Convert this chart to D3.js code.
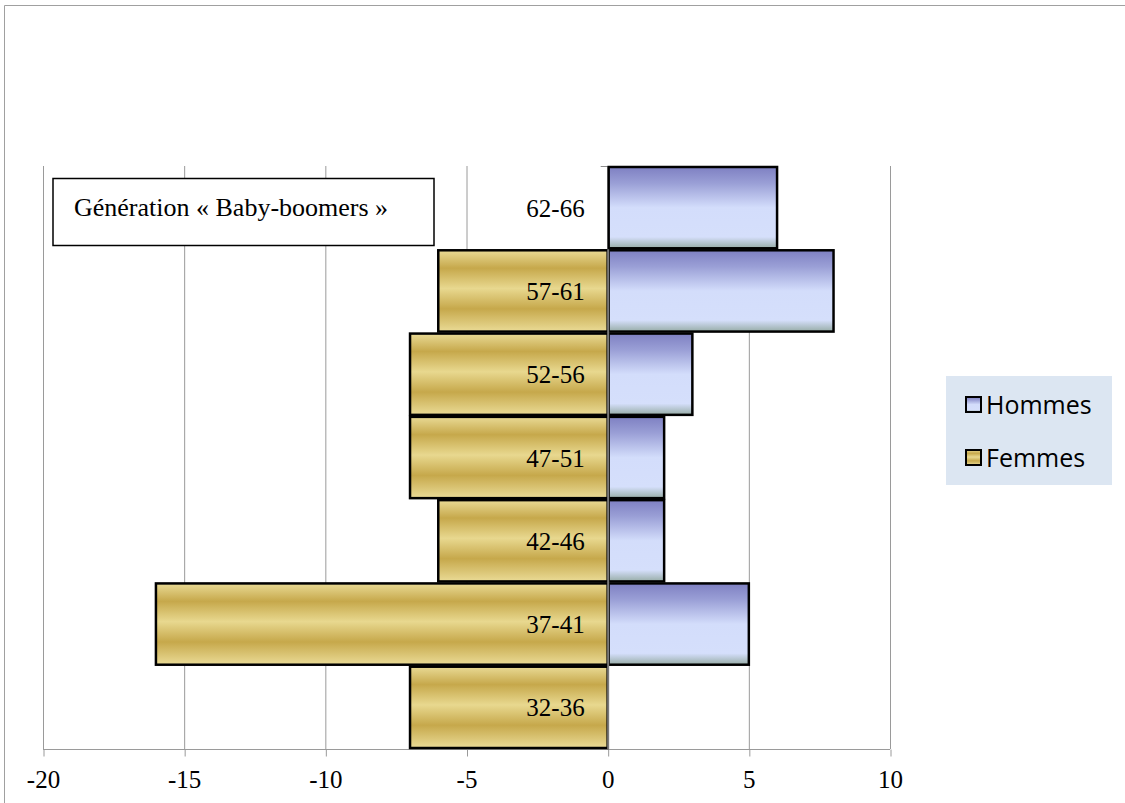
<!DOCTYPE html>
<html>
<head>
<meta charset="utf-8">
<script src="https://cdn.jsdelivr.net/npm/d3@7"></script>
<style>
  body { margin: 0; background: #fff; }
  svg { display: block; }
  .serif, .serif text { font-family: "Liberation Serif", "Times New Roman", Times, "DejaVu Serif", serif; }
  .sans { font-family: "Open Sans", "Noto Sans", sans-serif; }
</style>
</head>
<body>
<div id="chart"></div>
<script>
// age groups, top to bottom
const categories = ["62-66", "57-61", "52-56", "47-51", "42-46", "37-41", "32-36"];
const hommes = [6, 8, 3, 2, 2, 5, 0];
const femmes = [0, -6, -7, -7, -6, -16, -7];
const xTicks = [-20, -15, -10, -5, 0, 5, 10];
const seriesNames = ["Hommes", "Femmes"];
const boxTitle = "Génération « Baby-boomers »";
const splitBefore = "42-46"; // blue separator line

const width = 1125, height = 803;
const plot = {left: 43, right: 890, top: 166, bottom: 749};

const svg = d3.select("#chart").append("svg")
    .attr("width", width)
    .attr("height", height);

const defs = svg.append("defs");

let gH = defs.append("linearGradient").attr("id", "gradH")
    .attr("x1", 0).attr("y1", 0).attr("x2", 0).attr("y2", 1);
[[0, "#7e80c2"], [0.2, "#9a9fd6"], [0.5, "#d3ddfb"], [0.86, "#d5dffb"], [1, "#97aca6"]]
    .forEach(s => gH.append("stop").attr("offset", s[0]).attr("stop-color", s[1]));

let gF = defs.append("linearGradient").attr("id", "gradF")
    .attr("x1", 0).attr("y1", 0).attr("x2", 0).attr("y2", 1);
[[0, "#e9da95"], [0.22, "#c6a84b"], [0.47, "#e8d88f"], [0.72, "#c6a84b"], [1, "#eadb96"]]
    .forEach(s => gF.append("stop").attr("offset", s[0]).attr("stop-color", s[1]));

let shadow = defs.append("filter").attr("id", "shadow")
    .attr("x", "-5%").attr("y", "-200%").attr("width", "110%").attr("height", "600%");
shadow.append("feDropShadow").attr("dx", 0).attr("dy", 4).attr("stdDeviation", 3)
    .attr("flood-color", "#000").attr("flood-opacity", 0.45);

// outer chart border
svg.append("path")
    .attr("d", "M4.5," + height + " V5.5 H" + width)
    .attr("fill", "none").attr("stroke", "#a0a0a0").attr("stroke-width", 1);

const x = d3.scaleLinear().domain([-20, 10]).range([plot.left, plot.right]);
const y = d3.scaleBand().domain(categories).range([plot.top, plot.bottom]).padding(0);

// gridlines
svg.append("g").selectAll("line")
    .data(xTicks)
    .join("line")
    .attr("x1", d => x(d) + 0.5).attr("x2", d => x(d) + 0.5)
    .attr("y1", plot.top).attr("y2", plot.bottom)
    .attr("stroke", "#9a9a9a").attr("stroke-width", 1);

// bottom axis
let xAxis = svg.append("g")
    .attr("transform", "translate(0," + (plot.bottom + 0.5) + ")")
    .call(d3.axisBottom(x).tickValues(xTicks).tickSize(7).tickPadding(14).tickFormat(d3.format("d")));
xAxis.attr("font-family", null).attr("font-size", null).attr("class", "serif");
xAxis.select(".domain").attr("stroke", "#9a9a9a").attr("d", "M" + plot.left + ",0H" + plot.right);
xAxis.selectAll(".tick line").attr("stroke", "#9a9a9a").attr("transform", "translate(0.5,0)");
xAxis.selectAll(".tick text")
    .style("font-family", "'Liberation Serif', 'Times New Roman', serif")
    .attr("font-size", 25).attr("fill", "#000")
    .text(d => d < 0 ? "-" + Math.abs(d) : d);

// zero axis with small ticks to the left
svg.append("line")
    .attr("x1", x(0) + 0.5).attr("x2", x(0) + 0.5)
    .attr("y1", plot.top).attr("y2", plot.bottom)
    .attr("stroke", "#8c8c8c");
svg.append("g").selectAll("line")
    .data(categories)
    .join("line")
    .attr("x1", x(0) - 7).attr("x2", x(0))
    .attr("y1", d => y(d) + 0.5).attr("y2", d => y(d) + 0.5)
    .attr("stroke", "#8c8c8c");

// bars
const rows = categories.map((c, i) => ({cat: c, h: hommes[i], f: femmes[i]}));

svg.append("g").selectAll("rect")
    .data(rows.filter(d => d.f !== 0))
    .join("rect")
    .attr("x", d => x(d.f))
    .attr("y", d => y(d.cat) + 1)
    .attr("width", d => x(0) - x(d.f))
    .attr("height", y.bandwidth() - 2)
    .attr("fill", "url(#gradF)")
    .attr("stroke", "#000").attr("stroke-width", 2.5);

svg.append("g").selectAll("rect")
    .data(rows.filter(d => d.h !== 0))
    .join("rect")
    .attr("x", x(0) + 1)
    .attr("y", d => y(d.cat) + 1)
    .attr("width", d => x(d.h) - x(0) - 1)
    .attr("height", y.bandwidth() - 2)
    .attr("fill", "url(#gradH)")
    .attr("stroke", "#000").attr("stroke-width", 2.5);

// gray seam at zero
svg.append("line")
    .attr("x1", x(0) + 0.5).attr("x2", x(0) + 0.5)
    .attr("y1", y("57-61")).attr("y2", plot.bottom)
    .attr("stroke", "#7a7a7a").attr("stroke-width", 2);

// category labels
svg.append("g").attr("class", "serif").selectAll("text")
    .data(categories)
    .join("text")
    .attr("x", x(0) - 23)
    .attr("y", d => y(d) + y.bandwidth() / 2 + 9)
    .attr("text-anchor", "end")
    .attr("font-size", 25)
    .attr("fill", "#000")
    .text(d => d);

// separator line
svg.append("line")
    .attr("x1", x(-20) + 2).attr("x2", x(10) + 2)
    .attr("y1", y(splitBefore) - 1).attr("y2", y(splitBefore) - 1)
    .attr("stroke", "#4f81bd").attr("stroke-width", 5)
    .attr("filter", "url(#shadow)");

// text box
svg.append("rect")
    .attr("x", 53).attr("y", 178.5).attr("width", 381).attr("height", 67)
    .attr("fill", "#fff").attr("stroke", "#000").attr("stroke-width", 1.5);
svg.append("text")
    .attr("class", "serif")
    .attr("x", 74).attr("y", 216)
    .attr("font-size", 26).attr("fill", "#000")
    .text(boxTitle);

// legend
let legend = svg.append("g");
legend.append("rect")
    .attr("x", 946).attr("y", 376).attr("width", 166).attr("height", 109)
    .attr("fill", "#dce6f2");
let fills = ["url(#gradH)", "url(#gradF)"];
seriesNames.forEach((name, i) => {
    let ly = 397 + i * 53;
    legend.append("rect")
        .attr("x", 966).attr("y", ly).attr("width", 15).attr("height", 15)
        .attr("fill", fills[i]).attr("stroke", "#000").attr("stroke-width", 2);
    legend.append("text")
        .attr("class", "sans")
        .attr("x", 986).attr("y", ly + 17)
        .attr("font-size", 25).attr("fill", "#000")
        .text(name);
});
</script>
</body>
</html>
